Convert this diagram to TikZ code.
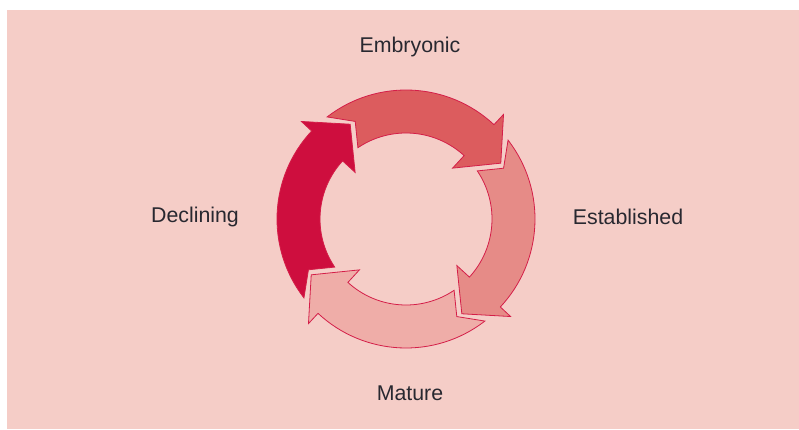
\documentclass[tikz,border=0pt]{standalone}
\usepackage{fontspec}
\setmainfont{Liberation Sans}
\definecolor{bgpink}{RGB}{245,205,199}
\definecolor{embryo}{RGB}{220,92,94}
\definecolor{establ}{RGB}{230,139,135}
\definecolor{mature}{RGB}{239,173,168}
\definecolor{decline}{RGB}{206,14,62}
\definecolor{rim}{RGB}{212,30,72}
\definecolor{labeltext}{RGB}{40,40,48}
\tikzset{
	cyclearrow/.style={draw=rim,line width=0.6pt,line join=miter},
	stagelabel/.style={text=labeltext,font=\fontsize{16}{19}\selectfont}
}
\begin{document}
\begin{tikzpicture}[x=0.75pt,y=0.75pt]
		\useasboundingbox (0,0) rectangle (799,429);
		\fill[bgpink] (7,0) rectangle (799,419);
		
		\node[stagelabel] (embryonic) at (410,382) {Embryonic};
		\node[stagelabel] (established) at (628,212) {Established};
		\node[stagelabel] (mature) at (410,36) {Mature};
		\node[stagelabel] (declining) at (195,212) {Declining};
		
		% four arrows round the cycle, turned by a quarter each
		\begin{scope}[shift={(406,210)}]
			\foreach \rot/\col in {0/embryo,-90/establ,-180/mature,-270/decline}{
				\draw[cyclearrow,fill=\col,rotate=\rot] (127.7:129) arc[start angle=127.7,end angle=47,radius=129]
					-- (47:143) -- (30.5:110) -- (47.5:69) -- (47.5:86)
					arc[start angle=47.5,end angle=124,radius=86] -- (117.5:110) -- cycle;
			}
		\end{scope}
\end{tikzpicture}
\end{document}
